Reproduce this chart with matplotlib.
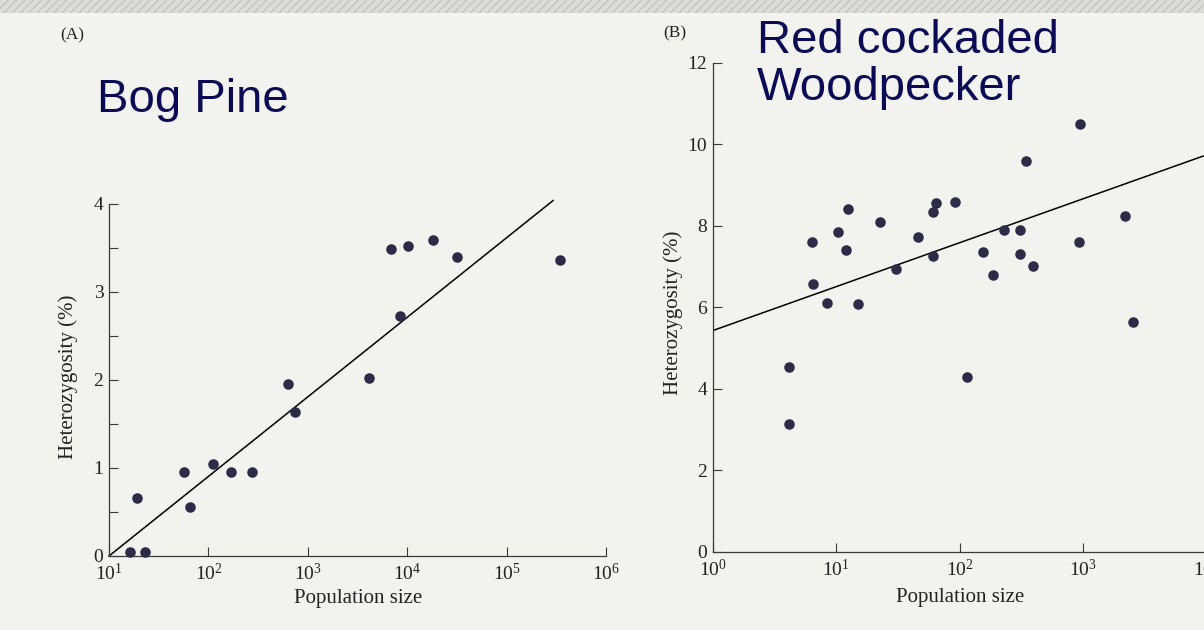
import matplotlib
matplotlib.use("Agg")
import matplotlib.pyplot as plt
from matplotlib.ticker import FixedLocator, NullLocator, LogFormatterMathtext
from matplotlib.patches import Rectangle

# --- datos ---
# (A) Bog Pine
pine_pop = [16.3, 22.8, 19.3, 56.2, 64.6, 112, 167, 277, 637, 738,
            4120, 6850, 8370, 10140, 18370, 32000, 343600]
pine_het = [0.04, 0.04, 0.66, 0.95, 0.56, 1.045, 0.95, 0.95, 1.95, 1.64,
            2.02, 3.49, 2.73, 3.52, 3.59, 3.40, 3.36]
pine_fit_x = [10, 294000]
pine_fit_y = [0.0, 4.04]

# (B) Red cockaded Woodpecker
wood_pop = [4.16, 4.16, 6.39, 6.43, 8.35, 10.4, 12.4, 12.1, 15.1, 22.5,
            30.3, 45.9, 61.2, 63.8, 61.2, 91.0, 115.4, 154.5, 185, 229,
            310, 310, 341, 395, 929, 946, 2163, 2541]
wood_het = [4.53, 3.14, 7.60, 6.58, 6.10, 7.85, 8.42, 7.40, 6.09, 8.10,
            6.93, 7.73, 8.33, 8.56, 7.25, 8.58, 4.29, 7.36, 6.79, 7.89,
            7.90, 7.31, 9.60, 7.01, 7.61, 10.49, 8.24, 5.65]
wood_fit_x = [1, 9340]
wood_fit_y = [5.43, 9.71]

pine_yticks = [0, 1, 2, 3, 4]
pine_yminor = [0.5, 1.5, 2.5, 3.5]
pine_xticks = [1e1, 1e2, 1e3, 1e4, 1e5, 1e6]
wood_yticks = [0, 2, 4, 6, 8, 10, 12]
wood_xticks = [1e0, 1e1, 1e2, 1e3, 1e4]

BG = '#f2f3ee'
DOT = '#2d2b48'
NAVY = '#0b0b55'
SPINE = '#3a3a3a'

plt.rcParams['font.family'] = ['Liberation Serif', 'DejaVu Serif']
plt.rcParams['mathtext.fontset'] = 'custom'
plt.rcParams['mathtext.rm'] = 'Liberation Serif'
plt.rcParams['mathtext.it'] = 'Liberation Serif:italic'

W, H = 1204, 630
fig = plt.figure(figsize=(W / 100, H / 100), dpi=100, facecolor=BG)

# banda de textura arriba (escaneo)
fig.patches.append(Rectangle((0, 617 / H), 1, 13 / H, transform=fig.transFigure,
                             facecolor='#dcdcd8', edgecolor='#c4c4c0',
                             hatch='////', linewidth=0, zorder=0))


def style_axes(ax):
    ax.set_facecolor('none')
    ax.patch.set_alpha(0)
    for s in ['top', 'right']:
        ax.spines[s].set_visible(False)
    for s in ['left', 'bottom']:
        ax.spines[s].set_color(SPINE)
        ax.spines[s].set_linewidth(0.9)
    ax.tick_params(which='both', direction='in', length=6.5, width=0.8,
                   color=SPINE, labelsize=14, labelcolor='#222222', pad=4)
    ax.tick_params(axis='x', pad=5)


def px_axes(left, right, bottom, top):
    return [left / W, (H - bottom) / H, (right - left) / W, (bottom - top) / H]


# ---------------- (A) ----------------
axA = fig.add_axes(px_axes(109, 606, 556, 204))
style_axes(axA)
axA.set_xscale('log')
axA.set_xlim(10, 1e6)
axA.set_ylim(0, 4)
axA.plot(pine_fit_x, pine_fit_y, color='black', lw=1.1, zorder=2, clip_on=False)
axA.plot(pine_pop, pine_het, 'o', ms=7.6, color=DOT, mew=0, zorder=3, clip_on=False)
axA.xaxis.set_major_locator(FixedLocator(pine_xticks))
axA.xaxis.set_minor_locator(NullLocator())
axA.xaxis.set_major_formatter(LogFormatterMathtext())
axA.yaxis.set_major_locator(FixedLocator(pine_yticks))
axA.yaxis.set_minor_locator(FixedLocator(pine_yminor))
axA.set_xlabel('Population size', fontsize=15, color='#222222')
axA.set_ylabel('Heterozygosity (%)', fontsize=15, color='#222222')
axA.xaxis.label.set_va('center')
axA.yaxis.label.set_va('center')
axA.xaxis.set_label_coords(0.501, -0.122)
axA.yaxis.set_label_coords(-0.0825, 0.5085)

# ---------------- (B) ----------------
axB = fig.add_axes(px_axes(712.7, 1206.8, 552, 62.7))
style_axes(axB)
axB.set_xscale('log')
axB.set_xlim(1, 1e4)
axB.set_ylim(0, 12)
axB.plot(wood_fit_x, wood_fit_y, color='black', lw=1.1, zorder=2)
axB.plot(wood_pop, wood_het, 'o', ms=7.6, color=DOT, mew=0, zorder=3)
axB.xaxis.set_major_locator(FixedLocator(wood_xticks))
axB.xaxis.set_minor_locator(NullLocator())
axB.xaxis.set_major_formatter(LogFormatterMathtext())
axB.yaxis.set_major_locator(FixedLocator(wood_yticks))
axB.yaxis.set_minor_locator(NullLocator())
axB.set_xlabel('Population size', fontsize=15, color='#222222')
axB.set_ylabel('Heterozygosity (%)', fontsize=15, color='#222222')
axB.xaxis.label.set_va('center')
axB.yaxis.label.set_va('center')
axB.xaxis.set_label_coords(0.5005, -0.092)
axB.yaxis.set_label_coords(-0.080, 0.488)

# ---------------- textos ----------------
fig.text(72.7 / W, 1 - 35 / H, '(A)', fontsize=12.5, ha='center', va='center', color='#222222')
fig.text(675 / W, 1 - 33 / H, '(B)', fontsize=12.5, ha='center', va='center', color='#222222')

title_kw = dict(fontsize=34, color=NAVY, family=['Liberation Sans', 'DejaVu Sans'],
                ha='left', va='baseline')
fig.text(96.7 / W, 1 - 112 / H, 'Bog Pine', **title_kw)
fig.text(756.7 / W, 1 - 53 / H, 'Red cockaded', **title_kw)
fig.text(756.7 / W, 1 - 100 / H, 'Woodpecker', **title_kw)

fig.savefig('out.png', dpi=100, facecolor=BG)
